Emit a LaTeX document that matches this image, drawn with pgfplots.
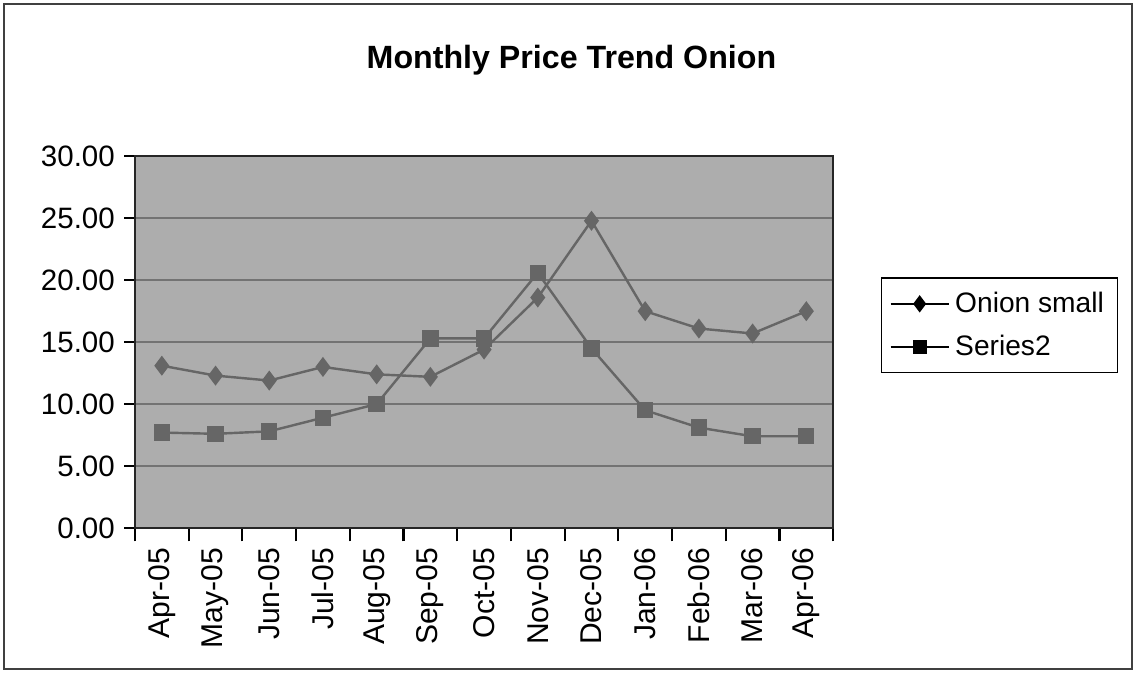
\documentclass[border=1pt]{standalone}
\usepackage{fontspec}
\setmainfont{Liberation Sans}
\usepackage{pgfplots}
\pgfplotsset{compat=1.18}
\definecolor{plotbg}{gray}{0.68}
\definecolor{serline}{gray}{0.40}
\definecolor{sermark}{gray}{0.40}
\begin{document}
\begin{tikzpicture}
\draw[black!75, line width=0.8pt] (-1.72,-1.85) rectangle (13.07,6.87);
\node[font=\bfseries\fontsize{12}{14}\selectfont] at (5.72,6.13) {Monthly Price Trend Onion};
\begin{axis}[
  at={(0,0)}, anchor=south west,
  scale only axis, width=9.15cm, height=4.87cm,
  xmin=-0.5, xmax=12.5, ymin=0, ymax=30,
  axis background/.style={fill=plotbg},
  axis line style={black!85, line width=0.8pt},
  xtick={0,...,12},
  xticklabels={Apr-05,May-05,Jun-05,Jul-05,Aug-05,Sep-05,Oct-05,Nov-05,Dec-05,Jan-06,Feb-06,Mar-06,Apr-06},
  x tick label style={rotate=90, anchor=east, font=\fontsize{11.2}{13}\selectfont},
  major x tick style={draw=none},
  minor xtick={-0.5,0.5,...,12.5},
  minor x tick style={black, line width=0.8pt},
  minor tick length=5pt,
  ytick={0,5,...,30},
  y tick label style={font=\fontsize{11}{13}\selectfont},
  /pgf/number format/.cd, fixed, fixed zerofill, precision=2, assume math mode=true,
  /pgfplots/.cd,
  major y tick style={black, line width=0.8pt},
  major tick length=4pt,
  tick align=outside, xtick pos=bottom, ytick pos=left,
  ymajorgrids, grid style={black!55, line width=0.6pt},
  legend style={at={(1.068,0.545)}, anchor=west, draw=black, line width=0.6pt,
    font=\fontsize{10.5}{12}\selectfont, row sep=3pt, inner sep=3pt},
  legend cell align=left,
  legend image code/.code={\draw[mark repeat=2, mark phase=2, #1]
    plot coordinates {(0cm,0cm) (0.38cm,0cm) (0.76cm,0cm)};},
]
\addplot[serline, line width=0.9pt, mark=diamond*, mark size=3pt,
  mark options={fill=sermark, draw=sermark}, forget plot]
  coordinates {(0,13.1) (1,12.3) (2,11.9) (3,13.0) (4,12.4) (5,12.2) (6,14.4)
               (7,18.6) (8,24.8) (9,17.5) (10,16.1) (11,15.7) (12,17.5)};
\addplot[serline, line width=0.9pt, mark=square*, mark size=2.6pt,
  mark options={fill=sermark, draw=sermark}, forget plot]
  coordinates {(0,7.7) (1,7.6) (2,7.8) (3,8.9) (4,10.0) (5,15.3) (6,15.3)
               (7,20.6) (8,14.5) (9,9.5) (10,8.1) (11,7.4) (12,7.4)};
\addlegendimage{black, line width=0.9pt, mark=diamond*, mark size=2.5pt, mark options={fill=black}}
\addlegendentry{Onion small}
\addlegendimage{black, line width=0.9pt, mark=square*, mark size=2.2pt, mark options={fill=black}}
\addlegendentry{Series2}
\end{axis}
\end{tikzpicture}
\end{document}
